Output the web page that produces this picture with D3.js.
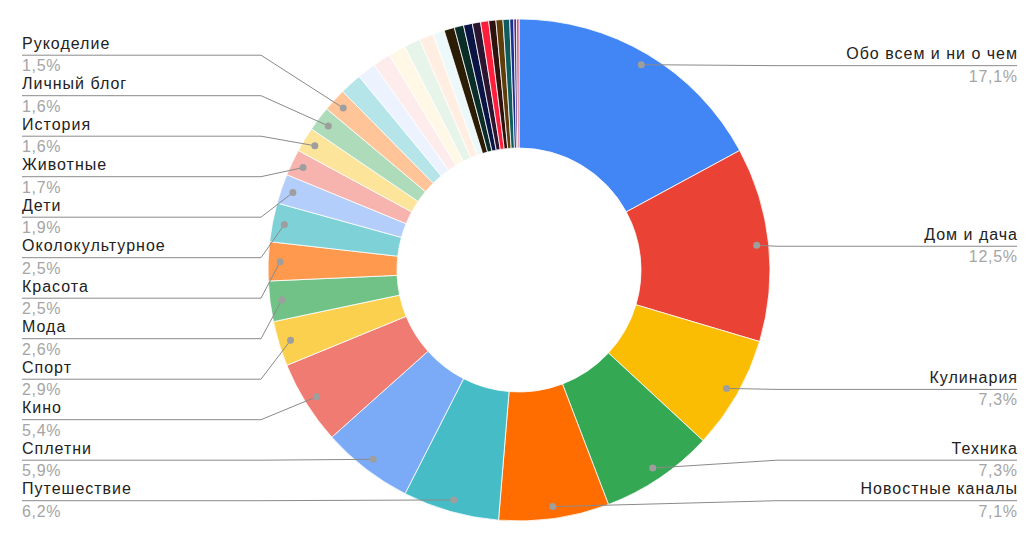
<!DOCTYPE html>
<html>
<head>
<meta charset="utf-8">
<script src="https://cdn.jsdelivr.net/npm/d3@7"></script>
<style>
  html, body { margin: 0; padding: 0; background: #fff; }
  svg { display: block; }
  text { font-family: "Liberation Sans", Arial, sans-serif; }
</style>
</head>
<body>
<svg id="chart" width="1032" height="540"></svg>
<script>
// ---- data ----
const categories = [
  "Обо всем и ни о чем", "Дом и дача", "Кулинария", "Техника", "Новостные каналы",
  "Путешествие", "Сплетни", "Кино", "Спорт", "Мода", "Красота", "Околокультурное",
  "Дети", "Животные", "История", "Личный блог", "Рукоделие",
  "Прочее 1", "Прочее 2", "Прочее 3", "Прочее 4", "Прочее 5", "Прочее 6", "Прочее 7",
  "Прочее 8", "Прочее 9", "Прочее 10", "Прочее 11", "Прочее 12", "Прочее 13",
  "Прочее 14", "Прочее 15", "Прочее 16", "Прочее 17", "Прочее 18"
];
const values = [
  17.1, 12.5, 7.3, 7.3, 7.1,
  6.2, 5.9, 5.4, 2.9, 2.6, 2.5, 2.5,
  1.9, 1.7, 1.6, 1.6, 1.5,
  1.41, 1.2, 1.15, 1.12, 1.05, 0.9, 0.75,
  0.67, 0.6, 0.57, 0.53, 0.52, 0.46, 0.45, 0.43, 0.26, 0.17, 0.16
];
const labelled = 17; // number of slices that carry a label
const colors = [
  "#4285f4", "#ea4335", "#fbbc04", "#34a853", "#ff6d01",
  "#46bdc6", "#7baaf7", "#f07b72", "#fcd04f", "#71c287", "#ff994d", "#7ed1d7",
  "#b3cefb", "#f7b4ae", "#fde49b", "#aedcba", "#ffc599",
  "#b5e5e8", "#ecf3fe", "#fdeceb", "#fff8e6", "#e6f4ea", "#ffeee1", "#ecf8f9",
  "#2b1c06", "#0b2d27", "#0b1545", "#2c1530", "#ff1f3d", "#2e120e", "#5e3d0b",
  "#0e5c5b", "#1a2f8f", "#5c2b73", "#c2557e"
];

// ---- layout ----
const W = 1032, H = 540;
const cx = 519, cy = 270;
const R = 251, R0 = 122;
const dotR = R - 12;
const gap = 40.5;          // min vertical distance between labels
const bottomLimit = 500.7; // lowest label line
const topLimit = 40;
const leftX = 22, rightX = 1017;
const elbowOffset = 258;

const svg = d3.select("#chart");
const g = svg.append("g").attr("transform", `translate(${cx},${cy})`);

const data = categories.map((c, i) => ({ name: c, value: values[i], color: colors[i], idx: i }));
const total = d3.sum(values);

const pie = d3.pie().sort(null).value(d => d.value);
const arcs = pie(data);
const arc = d3.arc().innerRadius(R0).outerRadius(R);

g.selectAll("path.slice").data(arcs).join("path")
  .attr("class", "slice")
  .attr("d", arc)
  .attr("fill", d => d.data.color)
  .attr("stroke", "#fff")
  .attr("stroke-width", 0.8);

// label anchor points
const fmt = v => (Math.round(v * 10) / 10).toFixed(1).replace(".", ",") + "%";
const labels = arcs.slice(0, labelled).map(a => {
  const m = (a.startAngle + a.endAngle) / 2;
  const x = cx + dotR * Math.sin(m);
  const y = cy - dotR * Math.cos(m);
  return { a, name: a.data.name, pct: fmt(a.data.value / total * 100), x, y, side: Math.sin(m) >= 0 ? "R" : "L" };
});

function resolve(list) {
  list.sort((p, q) => p.y - q.y);
  list.forEach((l, i) => {
    l.ly = l.y + 1;
    if (l.ly < topLimit) l.ly = topLimit;
    if (i > 0 && l.ly < list[i - 1].ly + gap) l.ly = list[i - 1].ly + gap;
  });
  for (let i = list.length - 1; i >= 0; i--) {
    const lim = i === list.length - 1 ? bottomLimit : list[i + 1].ly - gap;
    if (list[i].ly > lim) list[i].ly = lim;
  }
}
const left = labels.filter(l => l.side === "L");
const right = labels.filter(l => l.side === "R");
resolve(left); resolve(right);

const lab = svg.append("g");
labels.forEach(l => {
  const isR = l.side === "R";
  const ex = isR ? cx + elbowOffset : cx - elbowOffset;
  const endX = isR ? rightX : leftX;
  const pts = [[l.x, l.y], [ex, l.ly], [endX, l.ly]];
  lab.append("path")
    .attr("d", d3.line()(pts))
    .attr("fill", "none")
    .attr("stroke", "#8a8a8a")
    .attr("stroke-width", 1);
  lab.append("circle")
    .attr("cx", l.x).attr("cy", l.y).attr("r", 3.5)
    .attr("fill", "#9e9e9e");
  lab.append("text")
    .attr("x", isR ? endX + 1 : endX).attr("y", l.ly - 6.5)
    .attr("text-anchor", isR ? "end" : "start")
    .attr("font-size", 16)
    .attr("letter-spacing", 1)
    .attr("fill", "#222")
    .text(l.name);
  lab.append("text")
    .attr("x", isR ? endX + 0.7 : endX).attr("y", l.ly + 16)
    .attr("text-anchor", isR ? "end" : "start")
    .attr("font-size", 16)
    .attr("letter-spacing", 0.7)
    .attr("fill", "#a5a5a5")
    .text(l.pct);
});
</script>
</body>
</html>
